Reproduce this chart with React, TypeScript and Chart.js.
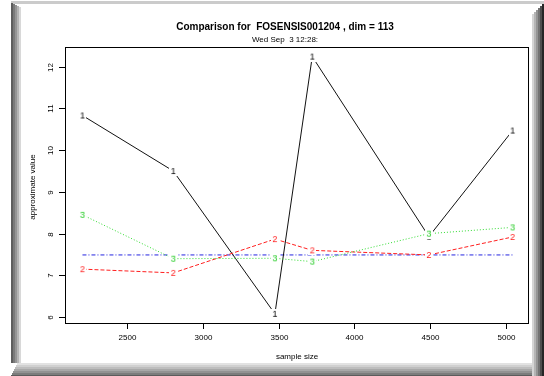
import React, { useEffect, useRef } from 'react';
import { Chart, registerables } from 'chart.js';

Chart.register(...registerables);

const sampleSizes = [2209, 2807, 3476, 3722, 4490, 5041];
const series1 = [10.83, 9.5, 6.08, 12.24, 7.93, 10.47];
const series2 = [7.15, 7.06, 7.87, 7.6, 7.49, 7.92];
const series3 = [8.45, 7.4, 7.41, 7.33, 8.0, 8.15];
const refLevel = 7.49;
const xTicks = [2500, 3000, 3500, 4000, 4500, 5000];
const yTicks = [6, 7, 8, 9, 10, 11, 12];
const seriesLabels = ['1', '2', '3'];
const titleText = 'Comparison for  FOSENSIS001204 , dim = 113';
const subtitleText = 'Wed Sep  3 12:28:';
const xTitle = 'sample size';
const yTitle = 'approximate value';

const FONT = '"Liberation Sans", Arial, Helvetica, sans-serif';

function digitImage(ch: string, color: string): HTMLCanvasElement {
  const c = document.createElement('canvas');
  c.width = 8;
  c.height = 10;
  const g = c.getContext('2d')!;
  g.fillStyle = '#ffffff';
  g.fillRect(0, 0, 8, 10);
  g.fillStyle = color;
  g.font = `9px ${FONT}`;
  g.textAlign = 'center';
  g.textBaseline = 'middle';
  g.fillText(ch, 4, 5.5);
  return c;
}

const decorPlugin = {
  id: 'decor',
  beforeDraw(chart: any) {
    const { ctx, width, height } = chart;
    ctx.save();
    ctx.fillStyle = '#ffffff';
    ctx.fillRect(0, 0, width, height);
    ctx.fillStyle = '#cbcbcb';
    ctx.fillRect(11, 1, width - 11, 3);
    const left = ['#5e5e5e', '#7a7a7a', '#959595', '#b4b4b4', '#d8d8d8'];
    left.forEach((c, i) => {
      ctx.fillStyle = c;
      ctx.fillRect(11 + i * 2, 3 + i, 2, 363 - (3 + i));
    });
    const bottom = ['#e2e2e2', '#d0d0d0', '#bdbdbd', '#a8a8a8', '#929292', '#7c7c7c', '#5c5c5c'];
    bottom.forEach((c, i) => {
      ctx.fillStyle = c;
      ctx.fillRect(11 + Math.max(0, 6 - i), 363 + i * 2, width - 11, 2);
    });
    const right = ['#d4d4d4', '#b4b4b4', '#949494', '#727272', '#4e4e4e', '#262626'];
    right.forEach((c, i) => {
      ctx.fillStyle = c;
      ctx.fillRect(532 + i * 2, 14 - i * 2, 2, height);
    });
    ctx.restore();
  },
  afterDraw(chart: any) {
    const { ctx, chartArea } = chart;
    const xs = chart.scales.x;
    const ys = chart.scales.y;
    ctx.save();
    ctx.strokeStyle = '#000';
    ctx.lineWidth = 1;
    ctx.strokeRect(chartArea.left + 0.5, chartArea.top + 0.5, chartArea.right - chartArea.left - 1, chartArea.bottom - chartArea.top);
    ctx.fillStyle = '#000';
    ctx.font = `8px ${FONT}`;
    ctx.textAlign = 'center';
    ctx.textBaseline = 'middle';
    xs.ticks.forEach((t: any) => {
      const px = Math.round(xs.getPixelForValue(t.value)) + 0.5;
      ctx.beginPath();
      ctx.moveTo(px, chartArea.bottom);
      ctx.lineTo(px, chartArea.bottom + 6);
      ctx.stroke();
      ctx.fillText(String(t.value), px, 338);
    });
    ys.ticks.forEach((t: any) => {
      const py = Math.round(ys.getPixelForValue(t.value)) + 0.5;
      ctx.beginPath();
      ctx.moveTo(chartArea.left - 6, py);
      ctx.lineTo(chartArea.left, py);
      ctx.stroke();
      ctx.save();
      ctx.translate(51, py);
      ctx.rotate(-Math.PI / 2);
      ctx.fillText(String(t.value), 0, 0);
      ctx.restore();
    });
    ctx.font = `bold 10px ${FONT}`;
    ctx.fillText(titleText, 285, 27);
    ctx.font = `8px ${FONT}`;
    ctx.fillText(subtitleText, 285, 40);
    ctx.fillText(xTitle, 297, 357);
    ctx.save();
    ctx.translate(33, 187);
    ctx.rotate(-Math.PI / 2);
    ctx.fillText(yTitle, 0, 0);
    ctx.restore();
    ctx.restore();
  },
};

export default function App() {
  const ref = useRef<HTMLCanvasElement | null>(null);
  useEffect(() => {
    if (!ref.current) return;
    const mk = (vals: number[]) => sampleSizes.map((x, i) => ({ x, y: vals[i] }));
    const chart = new Chart(ref.current, {
      type: 'scatter',
      data: {
        datasets: [
          {
            label: seriesLabels[2],
            data: mk(series3),
            showLine: true,
            borderColor: '#33dd33',
            borderWidth: 1,
            borderDash: [1, 2],
            pointStyle: digitImage(seriesLabels[2], '#22cc22'),
          },
          {
            label: seriesLabels[1],
            data: mk(series2),
            showLine: true,
            borderColor: '#ff2020',
            borderWidth: 1,
            borderDash: [4, 2],
            pointStyle: digitImage(seriesLabels[1], '#ff2020'),
          },
          {
            label: seriesLabels[0],
            data: mk(series1),
            showLine: true,
            borderColor: '#111111',
            borderWidth: 1,
            pointStyle: digitImage(seriesLabels[0], '#000000'),
          },
          {
            label: 'ref',
            data: [
              { x: sampleSizes[0], y: refLevel },
              { x: sampleSizes[sampleSizes.length - 1], y: refLevel },
            ],
            showLine: true,
            borderColor: '#2424e0',
            borderWidth: 1,
            borderDash: [4, 2, 1, 2],
            pointRadius: 0,
          },
        ],
      },
      options: {
        animation: false,
        responsive: false,
        devicePixelRatio: 1,
        layout: { padding: { left: 0, top: 47, right: 15, bottom: 0 } },
        plugins: { legend: { display: false }, tooltip: { enabled: false }, title: { display: false } },
        scales: {
          x: {
            type: 'linear',
            min: 2094,
            max: 5149,
            afterBuildTicks: (s: any) => {
              s.ticks = xTicks.map((v) => ({ value: v }));
            },
            afterFit: (s: any) => {
              s.height = 53;
            },
            ticks: { display: false },
            grid: { display: false },
            border: { display: false },
          },
          y: {
            type: 'linear',
            min: 5.86,
            max: 12.47,
            afterBuildTicks: (s: any) => {
              s.ticks = yTicks.map((v) => ({ value: v }));
            },
            afterFit: (s: any) => {
              s.width = 65;
            },
            ticks: { display: false },
            grid: { display: false },
            border: { display: false },
          },
        },
      } as any,
      plugins: [decorPlugin],
    });
    return () => chart.destroy();
  }, []);
  return (
    <div style={{ position: 'fixed', left: 0, top: 0, width: 544, height: 376 }}>
      <canvas ref={ref} width={544} height={376} style={{ display: 'block', width: 544, height: 376 }} />
    </div>
  );
}
